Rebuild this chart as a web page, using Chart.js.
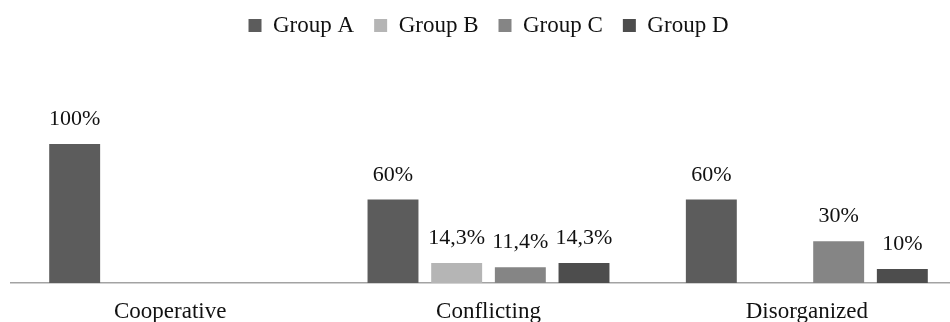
<!DOCTYPE html>
<html>
<head>
<meta charset="utf-8">
<script src="https://cdn.jsdelivr.net/npm/chart.js@4/dist/chart.umd.min.js"></script>
<style>
  html, body { margin: 0; padding: 0; background: #fff; overflow: hidden; }
  #wrap { width: 978px; height: 322px; }
</style>
</head>
<body>
<div id="wrap"><canvas id="c" width="978" height="322"></canvas></div>
<script>
// Categories and series (percent of each group per conflict style)
const categories = ['Cooperative', 'Conflicting', 'Disorganized'];
const groupNames = ['Group A', 'Group B', 'Group C', 'Group D'];
const groupA = [100, 60, 60];
const groupB = [0, 14.3, 0];
const groupC = [0, 11.4, 30];
const groupD = [0, 14.3, 10];
const groupColors = ['#5c5c5c', '#b5b5b5', '#858585', '#4d4d4d'];

const SERIF = '"Liberation Serif", "Times New Roman", serif';

// Percent label in decimal-comma style, e.g. 14,3%
function pct(v) {
  return String(v).replace('.', ',') + '%';
}

// Extra room between legend and plot area
const legendGap = {
  id: 'legendGap',
  beforeInit(chart) {
    const legend = chart.legend;
    const fit = legend.fit;
    legend.fit = function () {
      fit.call(this);
      this.height = 150;
    };
  }
};

// Value labels above each non-zero bar
const valueLabels = {
  id: 'valueLabels',
  afterDatasetsDraw(chart) {
    const ctx = chart.ctx;
    chart.data.datasets.forEach((ds, i) => {
      const meta = chart.getDatasetMeta(i);
      meta.data.forEach((bar, j) => {
        const v = ds.data[j];
        if (!v) return;
        ctx.save();
        ctx.font = '22px ' + SERIF;
        ctx.fillStyle = '#111';
        ctx.textAlign = 'center';
        ctx.textBaseline = 'alphabetic';
        ctx.fillText(pct(v), bar.x, bar.y - 19);
        ctx.restore();
      });
    });
  }
};

const series = [groupA, groupB, groupC, groupD];

new Chart(document.getElementById('c'), {
  type: 'bar',
  data: {
    labels: categories,
    datasets: series.map((d, i) => ({
      label: groupNames[i],
      data: d,
      backgroundColor: groupColors[i],
      borderWidth: 0,
      barPercentage: 0.8,
      categoryPercentage: 0.8
    }))
  },
  options: {
    responsive: false,
    animation: false,
    devicePixelRatio: 1,
    layout: { padding: { left: 11, right: 12, top: -6, bottom: 0 } },
    plugins: {
      legend: {
        position: 'top',
        labels: {
          boxWidth: 13,
          boxHeight: 13,
          padding: 20,
          color: '#111',
          font: { family: SERIF, size: 23 }
        }
      },
      tooltip: { enabled: false }
    },
    scales: {
      x: {
        grid: { display: false, drawTicks: false },
        border: { display: true, color: '#a3a3a3', width: 1.5 },
        ticks: {
          color: '#111',
          padding: 15,
          font: { family: SERIF, size: 23 }
        },
        afterFit(scale) { scale.height = 39; }
      },
      y: {
        display: false,
        min: 0,
        max: 100
      }
    }
  },
  plugins: [legendGap, valueLabels]
});
</script>
</body>
</html>
